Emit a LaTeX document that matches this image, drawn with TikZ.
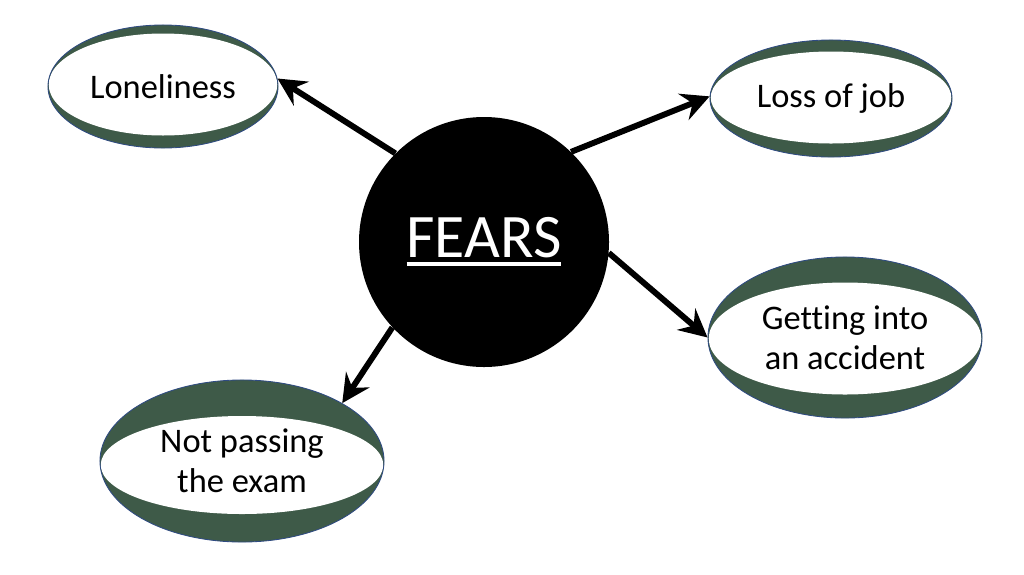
\documentclass[tikz,border=0pt]{standalone}
\usepackage{fontspec}
\setmainfont{Carlito}[Ligatures=NoCommon]
\usetikzlibrary{arrows.meta,shapes.geometric}
\definecolor{bandgreen}{RGB}{62,90,72}
\definecolor{rimblue}{RGB}{47,75,130}

% underlined title with a heavy rule
\newcommand{\fearsline}[1]{\vtop{\hbox{#1}\kern3pt\hrule height 2.8pt}}

\begin{document}
\begin{tikzpicture}[x=0.025cm, y=-0.025cm,
  fear/.style n args={4}{ellipse, draw=rimblue, line width=0.6pt, fill=bandgreen,
    inner sep=0pt, align=center, font=\fontsize{24.5}{28.5}\selectfont,
    minimum width={#1*0.05cm}, minimum height={#2*0.05cm},
    path picture={\fill[white] ([yshift={#4*-0.025cm}]path picture bounding box.center)
      ellipse [x radius={#1*0.025cm-0.5pt}, y radius={#3*0.025cm}];}},
  hub/.style={circle, fill=black, minimum size={250*0.025cm}, inner sep=0pt,
    text=white, font=\fontsize{44}{53}\selectfont},
  arrow/.style={line width=4.2pt, -{Stealth[length=20pt, width=20pt, inset=7pt]}}
]
\useasboundingbox (0,0) rectangle (1024,574);

% ---- centre and the four fears ----
\node[hub] (fears) at (484,242) {\fearsline{FEARS}};
\node[fear={115}{61.5}{51}{-2}] (lonely)   at (163,86.5)  {Loneliness};
\node[fear={121}{58.5}{46}{-1}] (lossjob)  at (831,98.5)  {Loss of job};
\node[fear={137}{80.5}{56}{1}]  (accident) at (845,337.5) {Getting into\\an accident};
\node[fear={142}{81}{49}{4}]    (exam)     at (242,461)   {Not passing\\the exam};

% ---- spokes ----
\draw[arrow] (fears.135) -- (lonely.4);
\draw[arrow] (fears.46)  -- (lossjob.179);
\draw[arrow] (fears.-5)  -- (accident.180);
\draw[arrow] (fears.223) -- (exam.30);

\end{tikzpicture}
\end{document}
